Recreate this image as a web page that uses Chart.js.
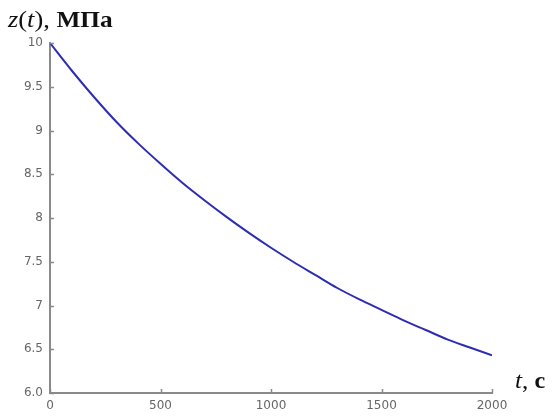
<!DOCTYPE html>
<html>
<head>
<meta charset="utf-8">
<script src="https://cdn.jsdelivr.net/npm/chart.js@4/dist/chart.umd.min.js"></script>
<style>
  html, body { margin: 0; padding: 0; background: #fff; }
  #wrap { width: 552px; height: 416px; }
</style>
</head>
<body>
<div id="wrap"><canvas id="stress"></canvas></div>
<script>
// time, s
const times = [0, 100, 200, 300, 400, 500, 600, 700, 800, 900, 1000,
               1100, 1200, 1300, 1400, 1500, 1600, 1700, 1800, 1900, 2000];
// z(t), MPa
const stress = [10.0, 9.68, 9.38, 9.10, 8.85, 8.62, 8.40, 8.20, 8.01, 7.83, 7.66,
                7.50, 7.35, 7.20, 7.07, 6.95, 6.83, 6.72, 6.61, 6.52, 6.43];
const xTicks = [0, 500, 1000, 1500, 2000];
const yTicks = [6, 6.5, 7, 7.5, 8, 8.5, 9, 9.5, 10];

const axisColor = "#8a8a8a";
const labelColor = "#666666";

// draws a run of [font, text] pieces, squeezed/stretched horizontally by sx
function drawRich(ctx, parts, x, y, sx) {
    ctx.save();
    ctx.translate(x, y);
    ctx.scale(sx, 1);
    let cx = 0;
    parts.forEach(([font, s]) => {
        ctx.font = font;
        ctx.fillText(s, cx, 0);
        cx += ctx.measureText(s).width;
    });
    ctx.restore();
}

// short tick marks pointing into the plot, plus the axis captions
const axisDecor = {
    id: "axisDecor",
    afterDraw(chart) {
        const ctx = chart.ctx;
        const xs = chart.scales.x;
        const ys = chart.scales.y;
        const area = chart.chartArea;
        ctx.save();
        ctx.strokeStyle = axisColor;
        ctx.lineWidth = 1.5;
        ctx.beginPath();
        yTicks.forEach((v) => {
            const py = Math.round(ys.getPixelForValue(v)) + 0.5;
            ctx.moveTo(area.left, py);
            ctx.lineTo(area.left + 4, py);
        });
        xTicks.forEach((v) => {
            const px = Math.round(xs.getPixelForValue(v)) + 0.5;
            ctx.moveTo(px, area.bottom);
            ctx.lineTo(px, area.bottom - 4);
        });
        ctx.stroke();

        ctx.fillStyle = "#111";
        ctx.textBaseline = "alphabetic";
        ctx.textAlign = "left";
        drawRich(ctx, [
            ["italic 24px 'Liberation Serif'", "z"],
            ["24px 'Liberation Serif'", "("],
            ["italic 24px 'Liberation Serif'", "t"],
            ["24px 'Liberation Serif'", "), "],
            ["bold 23px 'Liberation Serif'", "МПа"],
        ], 8, 27, 1.1);
        drawRich(ctx, [
            ["italic 24px 'Liberation Serif'", "t"],
            ["24px 'Liberation Serif'", ", "],
            ["bold 23px 'Liberation Serif'", "c"],
        ], 515, 388, 1.05);
        ctx.restore();
    },
};

new Chart(document.getElementById("stress"), {
    type: "line",
    data: {
        datasets: [
            {
                data: times.map((t, i) => ({ x: t, y: stress[i] })),
                borderColor: "#2d2db4",
                borderWidth: 2,
                pointRadius: 0,
                cubicInterpolationMode: "monotone",
                fill: false,
            },
        ],
    },
    options: {
        responsive: true,
        maintainAspectRatio: false,
        animation: false,
        layout: { padding: { top: 43, right: 60, left: 0, bottom: 0 } },
        plugins: {
            legend: { display: false },
            tooltip: { enabled: false },
        },
        scales: {
            x: {
                type: "linear",
                min: 0,
                max: 2000,
                afterBuildTicks: (scale) => {
                    scale.ticks = xTicks.map((v) => ({ value: v }));
                },
                afterFit: (scale) => {
                    scale.height = 23;
                },
                grid: { display: false, tickLength: 0 },
                border: { color: axisColor, width: 2 },
                ticks: {
                    color: labelColor,
                    padding: 6,
                    maxRotation: 0,
                    font: { family: "DejaVu Sans", size: 12 },
                    callback: (v) => String(v),
                },
            },
            y: {
                min: 6,
                max: 10,
                afterBuildTicks: (scale) => {
                    scale.ticks = yTicks.map((v) => ({ value: v }));
                },
                afterFit: (scale) => {
                    scale.width = 50;
                },
                grid: { display: false, tickLength: 0 },
                border: { color: axisColor, width: 2 },
                ticks: {
                    color: labelColor,
                    padding: 7,
                    font: { family: "DejaVu Sans", size: 12 },
                    callback: (v) => (v === 6 ? "6.0" : String(v)),
                },
            },
        },
    },
    plugins: [axisDecor],
});
</script>
</body>
</html>
